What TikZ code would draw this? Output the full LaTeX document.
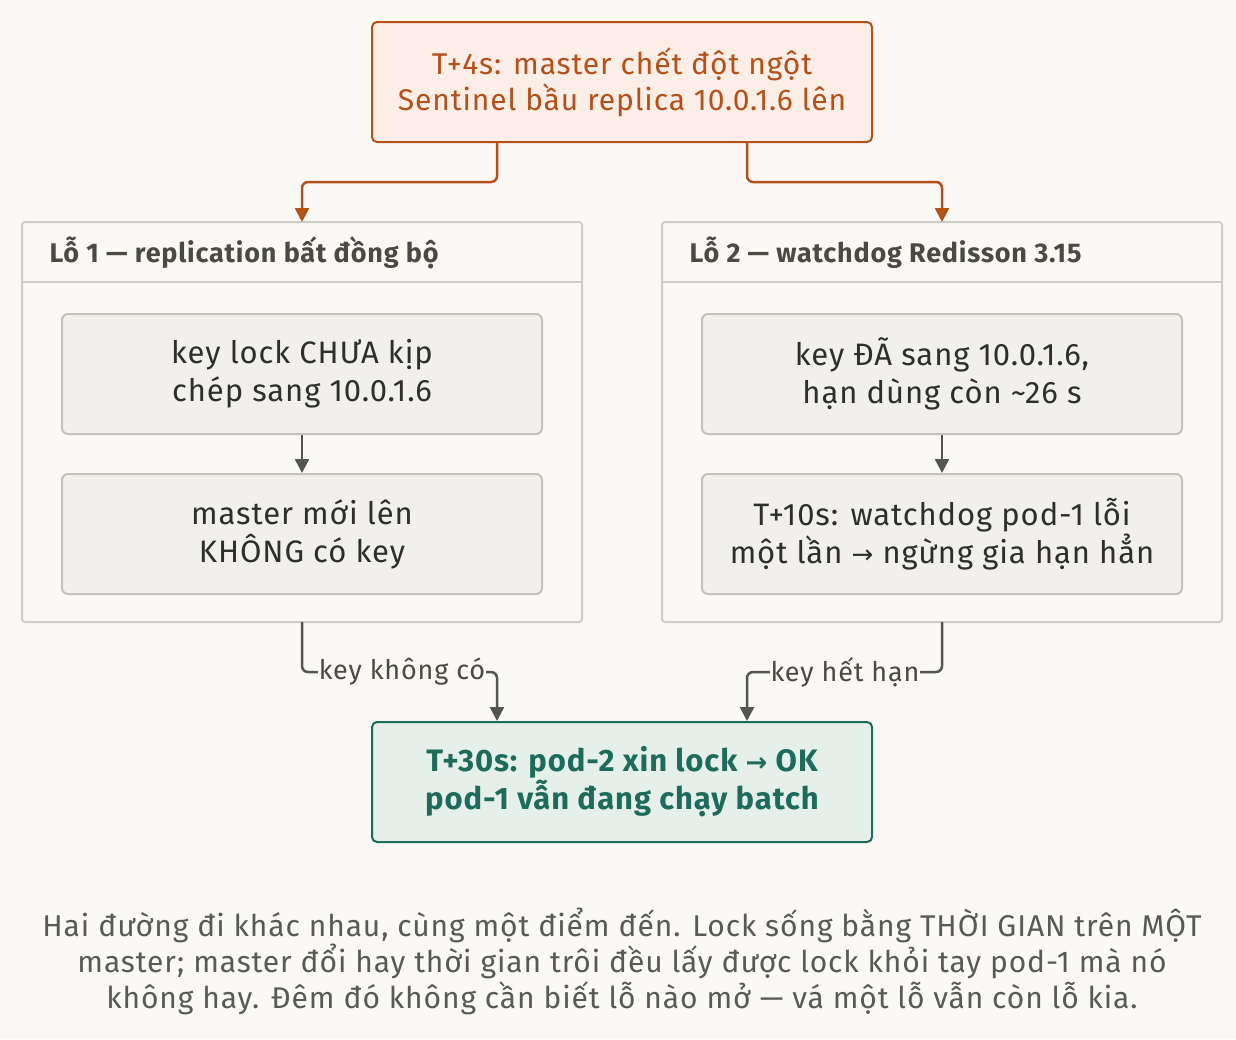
\documentclass[tikz,border=0pt]{standalone}
\usepackage{fontspec}
\setmainfont[LetterSpace=3]{Fira Sans}
\newfontfamily\arr{DejaVu Sans}
\usetikzlibrary{arrows.meta}
\definecolor{bg}{HTML}{FAF9F6}
\definecolor{org}{HTML}{B4501A}
\definecolor{orgf}{HTML}{FBEEE6}
\definecolor{grp}{HTML}{CFCDC6}
\definecolor{inf}{HTML}{F1F0EC}
\definecolor{ind}{HTML}{C4C2BA}
\definecolor{txt}{HTML}{2E2E2A}
\definecolor{hd}{HTML}{4A4A42}
\definecolor{tl}{HTML}{1F6B5B}
\definecolor{tlf}{HTML}{E5F0EB}
\definecolor{cap}{HTML}{5A5A55}
\definecolor{ar}{HTML}{55554F}
\newcommand{\ra}{{\arr\fontsize{26}{30}\selectfont →}}
\begin{document}
\begin{tikzpicture}[x=1pt,y=-1pt,
 box/.style={draw,rounded corners=5pt,line width=2pt,align=center,inner sep=0pt},
 grp/.style={draw=grp,line width=2pt,rounded corners=3pt},
 inner/.style={draw=ind,fill=inf,line width=2pt,rounded corners=6pt,minimum width=480pt,minimum height=120pt,align=center,font=\fontsize{31}{38}\selectfont,text=txt},
 hd/.style={anchor=west,font=\bfseries\fontsize{27}{30}\selectfont,text=hd},
 oa/.style={draw=org,line width=2.5pt,rounded corners=6pt,-{Triangle[length=14pt,width=14pt]}},
 ga/.style={draw=ar,line width=2.5pt,rounded corners=6pt,-{Triangle[length=14pt,width=14pt]}},
 lbl/.style={fill=bg,inner sep=1pt,font=\fontsize{27}{30}\selectfont,text=hd}]
\fill[bg] (0,0) rectangle (1236,1039);
\useasboundingbox (0,0) rectangle (1236,1039);
\node[box,draw=org,fill=orgf,minimum width=500pt,minimum height=120pt,text=org,font=\fontsize{30}{36}\selectfont] (top) at (622,82) {T+4s: master chết đột ngột\\Sentinel bầu replica 10.0.1.6 lên};
\draw[grp,fill=bg] (22,222) rectangle (582,622);
\draw[grp] (22,282) -- (582,282);
\draw[grp,fill=bg] (662,222) rectangle (1222,622);
\draw[grp] (662,282) -- (1222,282);
\coordinate (g1) at (302,222); \coordinate (g2) at (942,222);
\coordinate (g1b) at (302,622); \coordinate (g2b) at (942,622);
\node[hd] (h1) at (46,253) {Lỗ 1 — replication bất đồng bộ};
\node[hd] (h2) at (686,253) {Lỗ 2 — watchdog Redisson 3.15};
\node[inner] (a1) at (302,374) {key lock CHƯA kịp\\chép sang 10.0.1.6};
\node[inner] (a2) at (302,534) {master mới lên\\KHÔNG có key};
\node[inner] (b1) at (942,374) {key ĐÃ sang 10.0.1.6,\\hạn dùng còn \textasciitilde26 s};
\node[inner] (b2) at (942,534) {T+10s: watchdog pod-1 lỗi\\một lần \ra{} ngừng gia hạn hẳn};
\node[box,draw=tl,fill=tlf,minimum width=500pt,minimum height=120pt,text=tl,font=\bfseries\fontsize{31}{38}\selectfont] (bot) at (622,782) {T+30s: pod-2 xin lock \ra{} OK\\pod-1 vẫn đang chạy batch};
\draw[oa] ([xshift=-125pt]top.south) |- (302,182) -- (g1);
\draw[oa] ([xshift=125pt]top.south) |- (942,182) -- (g2);
\draw[ga] (a1) -- (a2);
\draw[ga] (b1) -- (b2);
\draw[ga] (g1b) |- (497,672) -- ([xshift=-125pt]bot.north);
\draw[ga] (g2b) |- (747,672) -- ([xshift=125pt]bot.north);
\node[lbl] (l1) at (402,672) {key không có};
\node[lbl] (l2) at (845,672) {key hết hạn};
\node[align=center,text=cap,font=\fontsize{30}{36}\selectfont] (c) at (622,961) {Hai đường đi khác nhau, cùng một điểm đến. Lock sống bằng THỜI GIAN trên MỘT\\master; master đổi hay thời gian trôi đều lấy được lock khỏi tay pod-1 mà nó\\không hay. Đêm đó không cần biết lỗ nào mở — vá một lỗ vẫn còn lỗ kia.};
\end{tikzpicture}
\end{document}
